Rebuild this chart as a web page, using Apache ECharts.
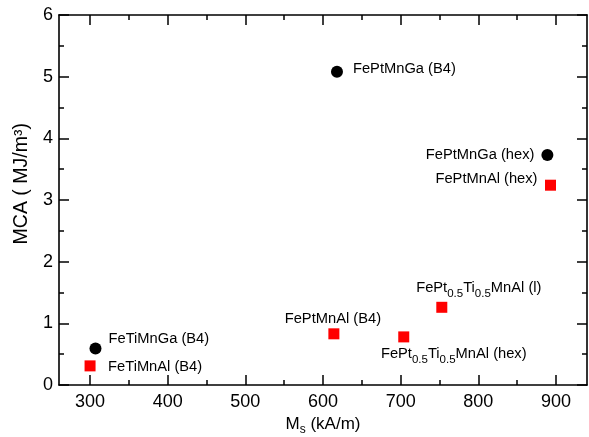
<!DOCTYPE html>
<html>
<head>
<meta charset="utf-8">
<script src="https://cdn.jsdelivr.net/npm/echarts@6/dist/echarts.min.js"></script>
<style>
html,body{margin:0;padding:0;background:#fff;}
#c{width:589px;height:437px;}
</style>
</head>
<body>
<div id="c"></div>
<script>
// ---- data ----
const gaNames = ['FePtMnGa (B4)', 'FePtMnGa (hex)', 'FeTiMnGa (B4)'];
const gaMs = [618, 889, 307];
const gaMCA = [5.08, 3.73, 0.59];

const alNames = ['FePtMnAl (hex)', 'FeTiMnAl (B4)', 'FePtMnAl (B4)', 'FePt0.5Ti0.5MnAl (hex)', 'FePt0.5Ti0.5MnAl (l)'];
const alMs = [893, 300, 614, 704, 753];
const alMCA = [3.24, 0.31, 0.83, 0.78, 1.26];

const xMajorTicks = [300, 400, 500, 600, 700, 800, 900];
const xMinorTicks = [350, 450, 550, 650, 750, 850];

// label placement (layout only)
const gaLabelLayout = [
  {align: 'left', dx: 16, dy: -1},
  {align: 'right', dx: -13, dy: 2},
  {align: 'left', dx: 13, dy: -7.5}
];
const alLabelLayout = [
  {align: 'right', dx: -13, dy: -4},
  {align: 'left', dx: 18, dy: 3},
  {align: 'center', dx: -1, dy: -12.5},
  {align: 'center', dx: 50, dy: 19},
  {align: 'center', dx: 37, dy: -17}
];

const FONT = '"Liberation Sans", Arial, sans-serif';

function richName(name) {
  return name.replace(/(Pt|Ti)0\.5/g, (m, el) => '{n|' + el + '}{s|0.5}')
    .split(/(\{[ns]\|[^}]*\})/).filter(t => t.length)
    .map(t => t.startsWith('{') ? t : '{n|' + t + '}').join('');
}

function makeData(xs, ys, names, layout) {
  return names.map((nm, i) => ({
    value: [xs[i], ys[i]],
    label: {
      show: true,
      position: 'inside',
      align: layout[i].align,
      offset: [layout[i].dx, layout[i].dy],
      formatter: richName(nm),
      color: '#000',
      rich: {
        n: {fontSize: 14.7, fontFamily: FONT, color: '#000', verticalAlign: 'bottom', padding: [0, 0, 4, 0]},
        s: {fontSize: 11.5, fontFamily: FONT, color: '#000', verticalAlign: 'bottom'}
      }
    }
  }));
}

function xAx(pos, ticks, len, withLabels, showLine) {
  const a = {
    type: 'value', position: pos, min: 260, max: 940,
    axisLine: {show: showLine, lineStyle: {color: '#000', width: 1.6}},
    splitLine: {show: false},
    axisTick: {show: true, inside: true, length: len, customValues: ticks, lineStyle: {color: '#000', width: 1.5}},
    axisLabel: {show: withLabels, customValues: ticks, fontSize: 18, color: '#000', fontFamily: FONT, margin: 8}
  };
  if (withLabels) {
    a.name = '{a|M}{b|s}{a| (kA/m)}';
    a.nameLocation = 'middle';
    a.nameGap = 28;
    a.nameTextStyle = {rich: {
      a: {fontSize: 17, fontFamily: FONT, color: '#000', verticalAlign: 'bottom', padding: [0, 0, 3, 0]},
      b: {fontSize: 12, fontFamily: FONT, color: '#000', verticalAlign: 'bottom'}
    }};
  }
  return a;
}

function yAx(pos, withLabels) {
  const a = {
    type: 'value', position: pos, min: 0, max: 6, interval: 1,
    axisLine: {show: true, lineStyle: {color: '#000', width: 1.6}},
    splitLine: {show: false},
    axisTick: {show: true, inside: true, length: 10, lineStyle: {color: '#000', width: 1.5}},
    minorTick: {show: true, splitNumber: 2, length: 5, lineStyle: {color: '#000', width: 1.5}},
    axisLabel: {show: withLabels, fontSize: 18, color: '#000', fontFamily: FONT, margin: 6}
  };
  if (withLabels) {
    a.name = '      MCA ( MJ/m\u00b3)';
    a.nameLocation = 'middle';
    a.nameGap = 26;
    a.nameTextStyle = {fontSize: 19.5, fontFamily: FONT, color: '#000'};
  }
  return a;
}

const chart = echarts.init(document.getElementById('c'));
chart.setOption({
  animation: false,
  grid: {left: 59, top: 15, right: 2, bottom: 52, outerBoundsMode: 'none'},
  xAxis: [
    xAx('bottom', xMajorTicks, 10, true, true),
    xAx('bottom', xMinorTicks, 5, false, false),
    xAx('top', xMajorTicks, 10, false, true),
    xAx('top', xMinorTicks, 5, false, false)
  ],
  yAxis: [yAx('left', true), yAx('right', false)],
  series: [
    {
      type: 'scatter', name: 'Ga',
      symbol: 'circle', symbolSize: 12,
      itemStyle: {color: '#000', opacity: 1},
      data: makeData(gaMs, gaMCA, gaNames, gaLabelLayout)
    },
    {
      type: 'scatter', name: 'Al',
      symbol: 'rect', symbolSize: 11,
      itemStyle: {color: '#ff0000', opacity: 1},
      data: makeData(alMs, alMCA, alNames, alLabelLayout)
    }
  ]
});
</script>
</body>
</html>
